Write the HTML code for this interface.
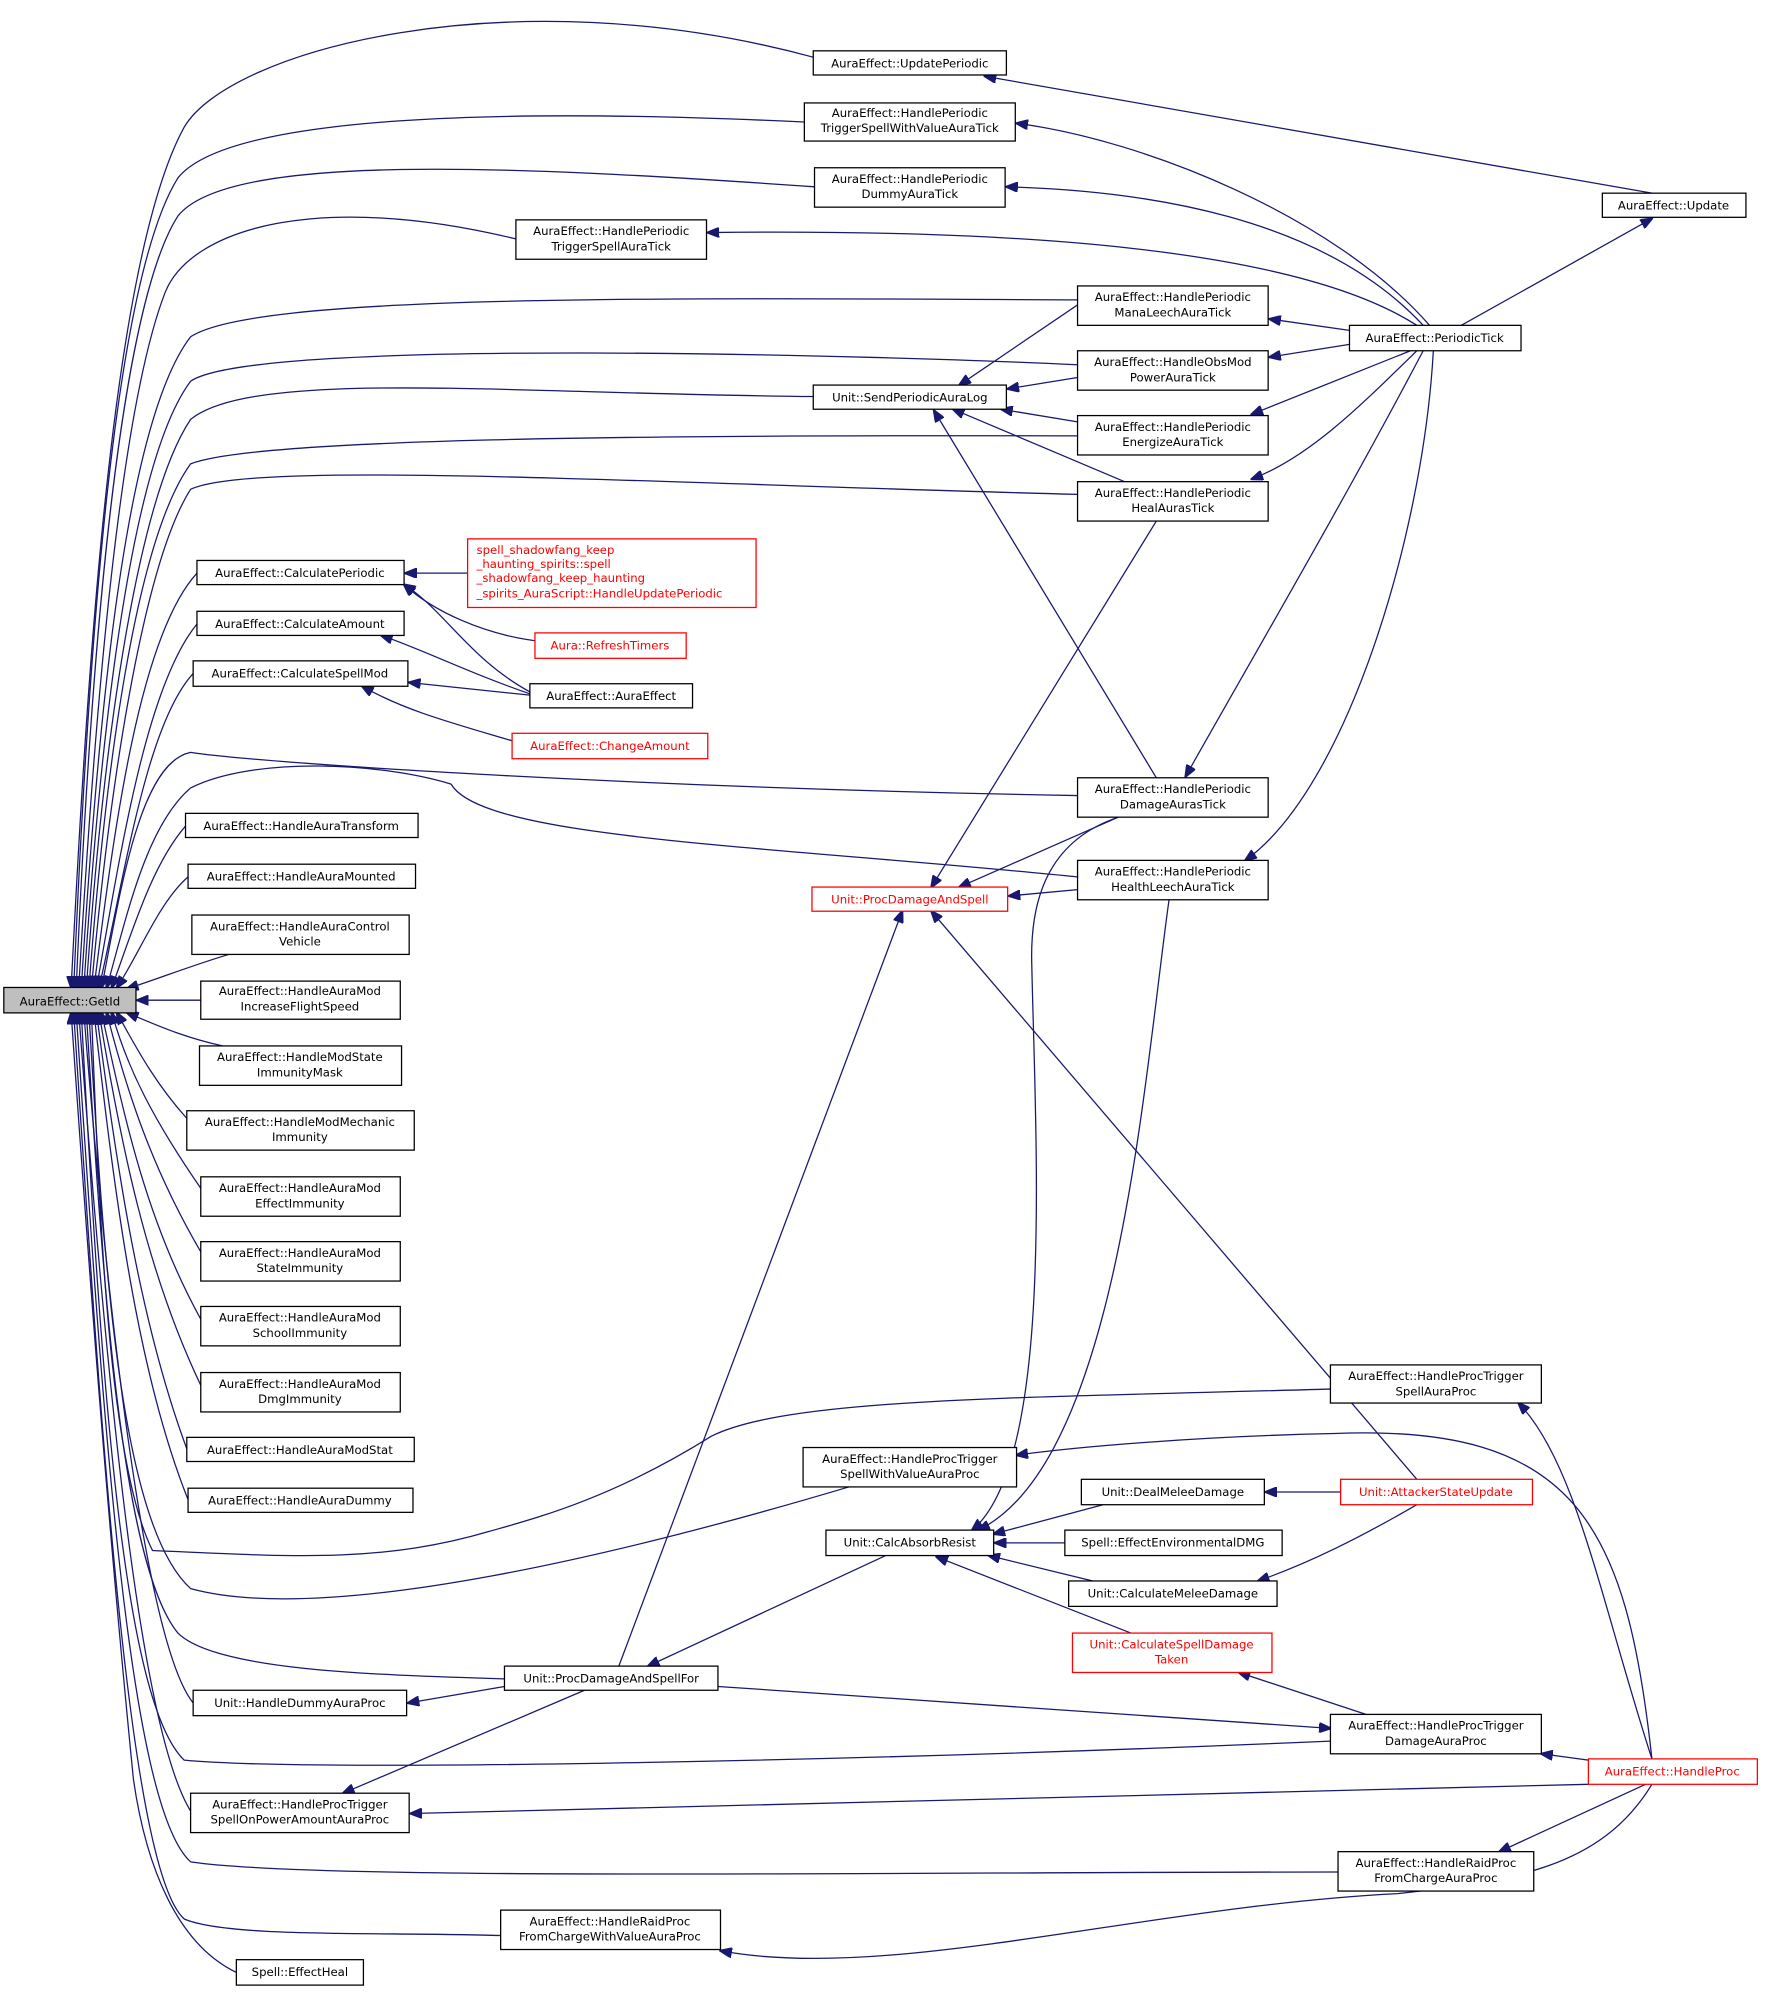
<!DOCTYPE html>
<html><head><meta charset="utf-8"><style>
html,body{margin:0;padding:0;background:#fff;}
svg{display:block;}
text{font-family:"DejaVu Sans","Liberation Sans",sans-serif;font-size:9.2px;fill:#000;text-anchor:middle;}
.n{fill:#fff;stroke:#000;stroke-width:1;}
.r{fill:#fff;stroke:#f00;stroke-width:1;}
.e{fill:none;stroke:#191970;stroke-width:1;marker-end:url(#a);}
.t{fill:#f00;}
</style></head><body>
<svg width="1765" height="1994" viewBox="0 0 1389 1569" preserveAspectRatio="none">
<defs><marker id="a" markerWidth="10" markerHeight="8" refX="9" refY="4" orient="auto" markerUnits="userSpaceOnUse"><path d="M0,0 L10,4 L0,8 z" fill="#191970" stroke="#191970"/></marker></defs>

<!-- edges to GetId (top) -->
<path class="e" d="M640,45 C400,-20 180,40 145,100 C90,200 70,500 56,777"/>
<path class="e" d="M633,96 C400,85 180,90 140,140 C90,220 70,500 58,777"/>
<path class="e" d="M641,147 C400,130 180,120 140,170 C95,240 72,500 60,777"/>
<path class="e" d="M406,188 C250,150 150,180 130,230 C95,320 75,550 62,777"/>
<path class="e" d="M848,236 C500,234 200,232 150,265 C100,330 78,550 64,777"/>
<path class="e" d="M848,287 C700,280 200,265 150,300 C105,360 80,560 66,777"/>
<path class="e" d="M640,312 C400,310 200,290 150,330 C110,390 82,570 68,777"/>
<path class="e" d="M848,343 C500,342 200,345 150,365 C110,420 85,580 70,777"/>
<path class="e" d="M848,389 C500,380 200,362 150,385 C115,440 88,600 72,777"/>
<path class="e" d="M155,451 C110,500 90,650 74,777"/>
<path class="e" d="M155,491 C115,540 95,670 76,777"/>
<path class="e" d="M152,530 C115,570 98,690 78,777"/>
<path class="e" d="M848,626 C500,620 200,600 150,592 C110,600 95,700 80,777"/>
<path class="e" d="M848,690 C600,665 380,660 355,617 C300,600 200,595 150,620 C115,650 100,720 84,777"/>
<path class="e" d="M146,650 C120,680 105,730 88,777"/>
<path class="e" d="M148,690 C125,710 110,750 92,777"/>
<path class="e" d="M180,751 C150,760 125,770 100,778"/>
<!-- direct -->
<path class="e" d="M158,787 L108,787"/>
<!-- bottom -->
<path class="e" d="M175,823 C140,815 120,805 100,797"/>
<path class="e" d="M147,880 C120,850 105,820 92,797"/>
<path class="e" d="M158,935 C120,880 100,840 88,797"/>
<path class="e" d="M158,985 C120,920 100,860 84,797"/>
<path class="e" d="M158,1038 C115,960 98,880 80,797"/>
<path class="e" d="M158,1090 C115,1000 95,900 78,797"/>
<path class="e" d="M147,1140 C110,1040 92,920 76,797"/>
<path class="e" d="M148,1180 C108,1080 90,940 74,797"/>
<path class="e" d="M1047,1093 C800,1100 620,1100 560,1130 C480,1180 420,1195 385,1205 C300,1230 230,1225 120,1220 C85,1150 78,950 72,797"/>
<path class="e" d="M668,1170 C500,1220 260,1280 150,1250 C95,1200 82,1000 70,797"/>
<path class="e" d="M397,1321 C300,1318 170,1315 140,1285 C95,1230 80,1000 68,797"/>
<path class="e" d="M152,1340 C120,1300 90,1100 66,797"/>
<path class="e" d="M1047,1370 C700,1385 250,1395 145,1385 C98,1340 80,1100 64,797"/>
<path class="e" d="M150,1425 C110,1360 85,1100 62,797"/>
<path class="e" d="M1053,1473 C700,1473 250,1480 150,1465 C100,1420 80,1100 60,797"/>
<path class="e" d="M394,1523 C300,1520 180,1525 145,1510 C100,1470 78,1100 58,797"/>
<path class="e" d="M186,1552 C140,1530 115,1470 105,1400 C85,1200 70,1000 56,797"/>

<!-- other edges -->
<path class="e" d="M1300,152 L775,60"/>
<path class="e" d="M1150,256 L1300,172"/>
<path class="e" d="M1125,256 C1050,170 900,110 800,97"/>
<path class="e" d="M1120,256 C1040,170 900,150 792,147"/>
<path class="e" d="M1115,256 C1020,195 800,180 557,183"/>
<path class="e" d="M1062,260 L999,251"/>
<path class="e" d="M1062,271 L999,281"/>
<path class="e" d="M1110,276 L985,326"/>
<path class="e" d="M1115,276 C1070,320 1030,360 985,377"/>
<path class="e" d="M1120,276 C1060,390 990,510 933,611"/>
<path class="e" d="M1128,276 C1120,420 1060,620 980,677"/>
<path class="e" d="M870,225 L755,303"/>
<path class="e" d="M848,297 L793,306"/>
<path class="e" d="M848,332 L788,322"/>
<path class="e" d="M885,379 L750,322"/>
<path class="e" d="M910,612 L735,323"/>
<path class="e" d="M910,410 L733,698"/>
<path class="e" d="M880,643 L755,698"/>
<path class="e" d="M848,700 L794,705"/>
<path class="e" d="M1115,1164 L733,717"/>
<path class="e" d="M487,1311 L710,717"/>
<path class="e" d="M368,451 L319,451"/>
<path class="e" d="M428,505 C380,500 340,480 318,460"/>
<path class="e" d="M420,546 C370,520 350,480 318,460"/>
<path class="e" d="M420,547 C370,530 330,510 300,500"/>
<path class="e" d="M417,547 L322,537"/>
<path class="e" d="M410,585 C360,570 320,560 285,540"/>
<path class="e" d="M880,643 C830,660 810,700 812,760 C815,900 830,1150 765,1204"/>
<path class="e" d="M920,708 C900,850 880,1150 770,1204"/>
<path class="e" d="M868,1184 L782,1207"/>
<path class="e" d="M838,1214 L783,1214"/>
<path class="e" d="M860,1244 L778,1224"/>
<path class="e" d="M890,1285 L737,1225"/>
<path class="e" d="M697,1224 L510,1311"/>
<path class="e" d="M1055,1174 L996,1174"/>
<path class="e" d="M1115,1184 C1070,1210 1030,1230 990,1244"/>
<path class="e" d="M1300,1384 C1260,1260 1240,1150 1195,1104"/>
<path class="e" d="M1300,1384 C1280,1200 1240,1120 1050,1128 C950,1130 850,1138 800,1145"/>
<path class="e" d="M1075,1349 L975,1316"/>
<path class="e" d="M397,1327 L321,1340"/>
<path class="e" d="M460,1330 L270,1411"/>
<path class="e" d="M565,1327 L1047,1360"/>
<path class="e" d="M1250,1385 L1213,1380"/>
<path class="e" d="M1250,1404 L323,1427"/>
<path class="e" d="M1295,1404 L1180,1457"/>
<path class="e" d="M1300,1404 C1260,1470 1190,1480 1100,1490 C900,1500 700,1560 567,1535"/>

<!-- nodes -->
<rect x="3" y="777" width="104" height="20" fill="#bfbfbf" stroke="#000"/><text x="55" y="791">AuraEffect::GetId</text>
<rect class="n" x="640" y="40" width="152" height="19"/><text x="716" y="53">AuraEffect::UpdatePeriodic</text>
<rect class="n" x="633" y="81" width="166" height="30"/><text x="716" y="92">AuraEffect::HandlePeriodic</text><text x="716" y="104">TriggerSpellWithValueAuraTick</text>
<rect class="n" x="641" y="132" width="150" height="31"/><text x="716" y="144">AuraEffect::HandlePeriodic</text><text x="716" y="156">DummyAuraTick</text>
<rect class="n" x="406" y="173" width="150" height="31"/><text x="481" y="185">AuraEffect::HandlePeriodic</text><text x="481" y="197">TriggerSpellAuraTick</text>
<rect class="n" x="1261" y="152" width="113" height="19"/><text x="1317" y="165">AuraEffect::Update</text>
<rect class="n" x="848" y="225" width="150" height="31"/><text x="923" y="237">AuraEffect::HandlePeriodic</text><text x="923" y="249">ManaLeechAuraTick</text>
<rect class="n" x="848" y="276" width="150" height="31"/><text x="923" y="288">AuraEffect::HandleObsMod</text><text x="923" y="300">PowerAuraTick</text>
<rect class="n" x="1062" y="256" width="135" height="20"/><text x="1129" y="269">AuraEffect::PeriodicTick</text>
<rect class="n" x="640" y="303" width="152" height="19"/><text x="716" y="316">Unit::SendPeriodicAuraLog</text>
<rect class="n" x="848" y="327" width="150" height="31"/><text x="923" y="339">AuraEffect::HandlePeriodic</text><text x="923" y="351">EnergizeAuraTick</text>
<rect class="n" x="848" y="379" width="150" height="31"/><text x="923" y="391">AuraEffect::HandlePeriodic</text><text x="923" y="403">HealAurasTick</text>
<rect class="n" x="155" y="441" width="163" height="19"/><text x="236" y="454">AuraEffect::CalculatePeriodic</text>
<rect class="r" x="368" y="424" width="227" height="54"/>
<text class="t" x="375" y="436" style="text-anchor:start">spell_shadowfang_keep</text>
<text class="t" x="375" y="447" style="text-anchor:start">_haunting_spirits::spell</text>
<text class="t" x="375" y="458" style="text-anchor:start">_shadowfang_keep_haunting</text>
<text class="t" x="375" y="470" style="text-anchor:start">_spirits_AuraScript::HandleUpdatePeriodic</text>
<rect class="n" x="155" y="481" width="163" height="19"/><text x="236" y="494">AuraEffect::CalculateAmount</text>
<rect class="r" x="421" y="498" width="119" height="20"/><text class="t" x="480" y="511">Aura::RefreshTimers</text>
<rect class="n" x="152" y="520" width="169" height="20"/><text x="236" y="533">AuraEffect::CalculateSpellMod</text>
<rect class="n" x="417" y="538" width="128" height="19"/><text x="481" y="551">AuraEffect::AuraEffect</text>
<rect class="r" x="403" y="577" width="154" height="20"/><text class="t" x="480" y="590">AuraEffect::ChangeAmount</text>
<rect class="n" x="848" y="612" width="150" height="31"/><text x="923" y="624">AuraEffect::HandlePeriodic</text><text x="923" y="636">DamageAurasTick</text>
<rect class="n" x="146" y="640" width="183" height="19"/><text x="237" y="653">AuraEffect::HandleAuraTransform</text>
<rect class="n" x="148" y="680" width="179" height="19"/><text x="237" y="693">AuraEffect::HandleAuraMounted</text>
<rect class="n" x="151" y="720" width="171" height="31"/><text x="236" y="732">AuraEffect::HandleAuraControl</text><text x="236" y="744">Vehicle</text>
<rect class="n" x="848" y="677" width="150" height="31"/><text x="923" y="689">AuraEffect::HandlePeriodic</text><text x="923" y="701">HealthLeechAuraTick</text>
<rect class="r" x="639" y="698" width="154" height="19"/><text class="t" x="716" y="711">Unit::ProcDamageAndSpell</text>
<rect class="n" x="158" y="772" width="157" height="30"/><text x="236" y="783">AuraEffect::HandleAuraMod</text><text x="236" y="795">IncreaseFlightSpeed</text>
<rect class="n" x="157" y="823" width="159" height="31"/><text x="236" y="835">AuraEffect::HandleModState</text><text x="236" y="847">ImmunityMask</text>
<rect class="n" x="147" y="874" width="179" height="31"/><text x="236" y="886">AuraEffect::HandleModMechanic</text><text x="236" y="898">Immunity</text>
<rect class="n" x="158" y="926" width="157" height="31"/><text x="236" y="938">AuraEffect::HandleAuraMod</text><text x="236" y="950">EffectImmunity</text>
<rect class="n" x="158" y="977" width="157" height="31"/><text x="236" y="989">AuraEffect::HandleAuraMod</text><text x="236" y="1001">StateImmunity</text>
<rect class="n" x="158" y="1028" width="157" height="31"/><text x="236" y="1040">AuraEffect::HandleAuraMod</text><text x="236" y="1052">SchoolImmunity</text>
<rect class="n" x="158" y="1080" width="157" height="31"/><text x="236" y="1092">AuraEffect::HandleAuraMod</text><text x="236" y="1104">DmgImmunity</text>
<rect class="n" x="147" y="1131" width="179" height="19"/><text x="236" y="1144">AuraEffect::HandleAuraModStat</text>
<rect class="n" x="148" y="1171" width="177" height="19"/><text x="236" y="1184">AuraEffect::HandleAuraDummy</text>
<rect class="n" x="1047" y="1074" width="166" height="30"/><text x="1130" y="1086">AuraEffect::HandleProcTrigger</text><text x="1130" y="1098">SpellAuraProc</text>
<rect class="n" x="632" y="1139" width="168" height="31"/><text x="716" y="1151">AuraEffect::HandleProcTrigger</text><text x="716" y="1163">SpellWithValueAuraProc</text>
<rect class="n" x="851" y="1164" width="144" height="20"/><text x="923" y="1177">Unit::DealMeleeDamage</text>
<rect class="r" x="1055" y="1164" width="151" height="20"/><text class="t" x="1130" y="1177">Unit::AttackerStateUpdate</text>
<rect class="n" x="650" y="1204" width="132" height="20"/><text x="716" y="1217">Unit::CalcAbsorbResist</text>
<rect class="n" x="838" y="1204" width="171" height="20"/><text x="923" y="1217">Spell::EffectEnvironmentalDMG</text>
<rect class="n" x="841" y="1244" width="164" height="20"/><text x="923" y="1257">Unit::CalculateMeleeDamage</text>
<rect class="r" x="844" y="1285" width="157" height="31"/><text class="t" x="922" y="1297">Unit::CalculateSpellDamage</text><text class="t" x="922" y="1309">Taken</text>
<rect class="n" x="397" y="1311" width="168" height="19"/><text x="481" y="1324">Unit::ProcDamageAndSpellFor</text>
<rect class="n" x="152" y="1330" width="168" height="20"/><text x="236" y="1343">Unit::HandleDummyAuraProc</text>
<rect class="n" x="1047" y="1349" width="166" height="31"/><text x="1130" y="1361">AuraEffect::HandleProcTrigger</text><text x="1130" y="1373">DamageAuraProc</text>
<rect class="r" x="1250" y="1384" width="133" height="20"/><text class="t" x="1316" y="1397">AuraEffect::HandleProc</text>
<rect class="n" x="150" y="1411" width="172" height="31"/><text x="236" y="1423">AuraEffect::HandleProcTrigger</text><text x="236" y="1435">SpellOnPowerAmountAuraProc</text>
<rect class="n" x="1053" y="1457" width="154" height="31"/><text x="1130" y="1469">AuraEffect::HandleRaidProc</text><text x="1130" y="1481">FromChargeAuraProc</text>
<rect class="n" x="394" y="1503" width="173" height="31"/><text x="480" y="1515">AuraEffect::HandleRaidProc</text><text x="480" y="1527">FromChargeWithValueAuraProc</text>
<rect class="n" x="186" y="1542" width="100" height="20"/><text x="236" y="1555">Spell::EffectHeal</text>
</svg>
</body></html>
